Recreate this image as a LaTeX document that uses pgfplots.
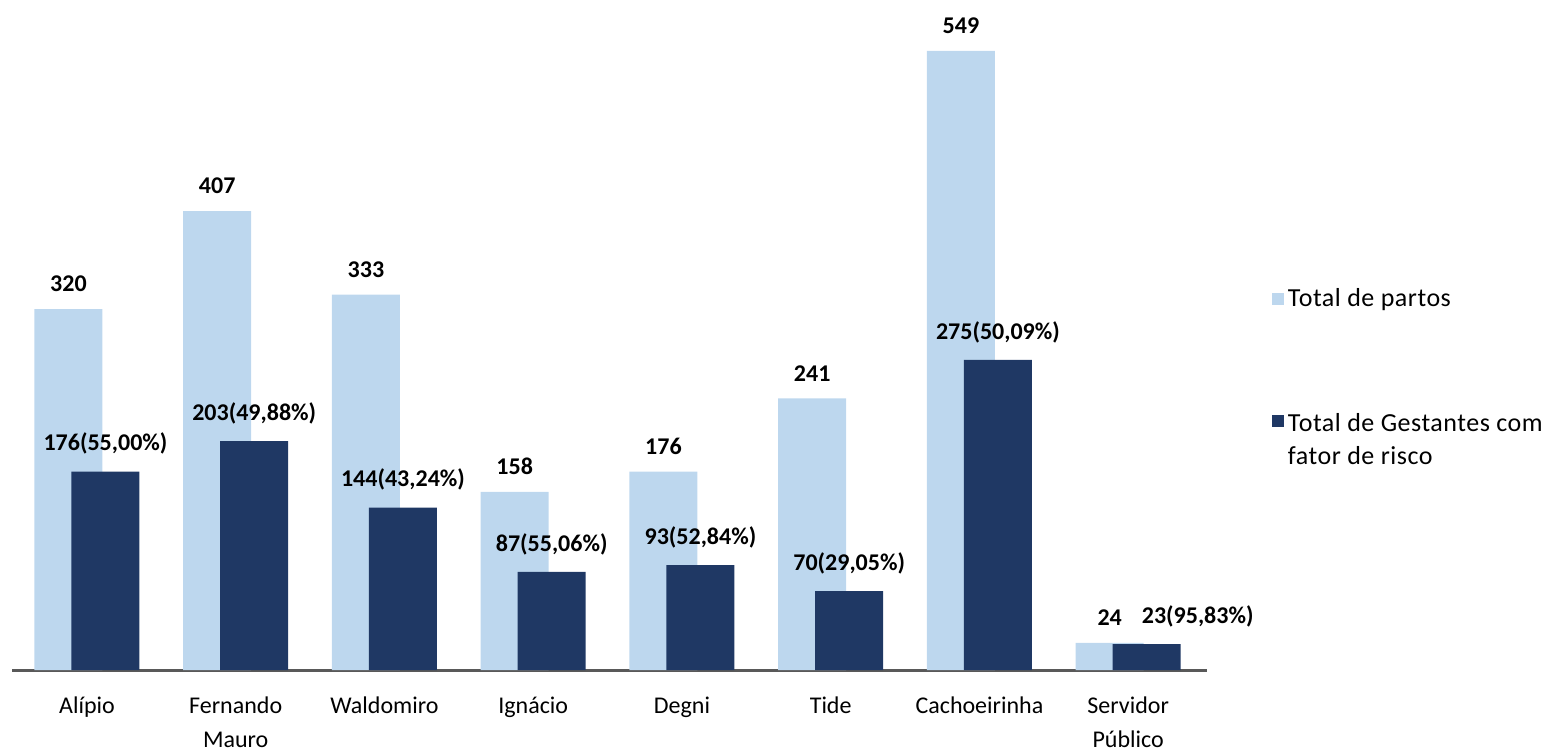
\documentclass[border=0pt]{standalone}
\usepackage{pgfplots}
\usepackage{pgfplotstable}
\pgfplotsset{compat=1.18}
\usepackage{fontspec}
\setmainfont{Carlito}
\newfontfamily\legfont[LetterSpace=2]{Carlito}

\definecolor{partos}{HTML}{BDD7EE}
\definecolor{risco}{HTML}{1F3864}
\definecolor{eixo}{HTML}{595959}

% partos = total de partos, risco = gestantes com fator de risco
\pgfplotstableread{
idx partos risco lab dx
0 320 176 176(55,00\%) 0
1 407 203 203(49,88\%) 0
2 333 144 144(43,24\%) 0
3 158 87 87(55,06\%) 0
4 176 93 93(52,84\%) 0
5 241 70 70(29,05\%) 0
6 549 275 275(50,09\%) 0
7 24 23 23(95,83\%) 25.5
}\dados

\begin{document}
\begin{tikzpicture}
\begin{axis}[
    name=ax,
    scale only axis,
    width=597.5pt, height=320pt,
    xmin=-0.504, xmax=7.53,
    ymin=0, ymax=567.6,
    ybar, bar width=34pt,
    axis y line=none,
    axis x line*=bottom,
    x axis line style={draw=eixo, line width=1.5pt, -},
    xtick=data,
    xticklabels={Alípio, Fernando\\Mauro, Waldomiro, Ignácio, Degni, Tide, Cachoeirinha, Servidor\\Público},
    xticklabel style={align=center, font=\fontsize{12}{17}\selectfont, yshift=-10pt},
    major tick length=0pt,
    clip=false,
    nodes near coords={\pgfplotspointmeta},
    nodes near coords style={font=\bfseries\fontsize{12}{14}\selectfont, black, yshift=5pt},
    legend style={at={(1.049,0.61)}, anchor=north west, draw=none, fill=none,
        font=\legfont\fontsize{13}{16.5}\selectfont, row sep=45.5pt,
        cells={anchor=west}},
    legend image code/.code={\fill[#1] (0pt,-3pt) rectangle (6pt,3pt);},
]
\addplot[fill=partos, draw=none, bar shift=-9.25pt,
    point meta=explicit symbolic]
    table[x=idx, y=partos, meta=partos] {\dados};
\addlegendentry{Total de partos}
\addplot[fill=risco, draw=none, bar shift=9.25pt,
    point meta=explicit symbolic,
    visualization depends on={\thisrow{dx} \as \dx},
    every node near coord/.append style={xshift=\dx pt}]
    table[x=idx, y=risco, meta=lab] {\dados};
\addlegendentry{\raisebox{0pt}[\height][0pt]{\begin{tabular}[t]{@{}l@{}}Total de Gestantes com\\fator de risco\end{tabular}}}
\end{axis}
\pgfresetboundingbox
\path[use as bounding box] ([xshift=-6pt,yshift=-42.5pt]ax.south west)
    rectangle ([xshift=770.5pt,yshift=335pt]ax.south west);
\end{tikzpicture}
\end{document}
